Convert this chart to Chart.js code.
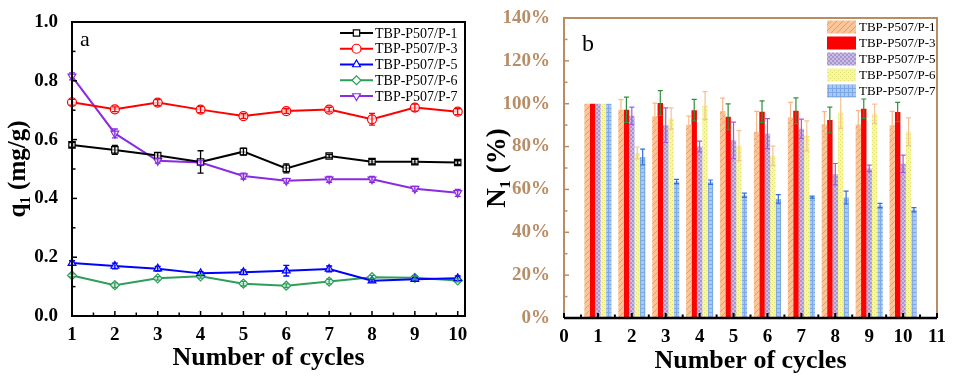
<!DOCTYPE html>
<html><head><meta charset="utf-8">
<script src="https://cdn.jsdelivr.net/npm/chart.js@4/dist/chart.umd.min.js"></script>
<style>
html,body{margin:0;padding:0;background:#fff;}
#wrap{position:relative;width:955px;height:382px;overflow:hidden;background:#fff;}
#c1{position:absolute;left:0;top:0;}
#c2{position:absolute;left:480px;top:0;}
</style></head><body>
<div id="wrap"><canvas id="c1" width="480" height="382"></canvas><canvas id="c2" width="475" height="382"></canvas></div>
<script>
// ---------- data ----------
const cycles = [1,2,3,4,5,6,7,8,9,10];
const seriesNames = ['TBP-P507/P-1','TBP-P507/P-3','TBP-P507/P-5','TBP-P507/P-6','TBP-P507/P-7'];

// panel a : q1 (mg/g)
const qP1 = [0.582,0.565,0.546,0.524,0.559,0.502,0.544,0.525,0.525,0.522];
const qP3 = [0.727,0.703,0.726,0.702,0.680,0.697,0.702,0.669,0.709,0.695];
const qP5 = [0.180,0.170,0.161,0.145,0.149,0.154,0.160,0.120,0.125,0.128];
const qP6 = [0.138,0.105,0.128,0.135,0.110,0.103,0.117,0.132,0.130,0.121];
const qP7 = [0.815,0.621,0.528,0.522,0.476,0.460,0.465,0.465,0.433,0.419];
const qP1Err = [0.008,0.015,0.010,0.038,0.012,0.015,0.006,0.008,0.008,0.006];
const qP3Err = [0.010,0.008,0.010,0.010,0.008,0.008,0.008,0.020,0.012,0.010];
const qP5Err = [0.008,0.010,0.008,0.006,0.008,0.018,0.010,0.004,0.006,0.008];
const qP6Err = [0.005,0.008,0.006,0.006,0.008,0.006,0.008,0.006,0.006,0.005];
const qP7Err = [0.012,0.015,0.008,0.008,0.010,0.008,0.010,0.010,0.008,0.012];

// panel b : N1 (%)
const nP1 = [100,97.2,94.1,90.2,96.6,86.9,93.6,90.3,90.3,89.9];
const nP3 = [100,97.2,100.3,97.0,93.9,96.3,96.7,92.4,97.7,96.1];
const nP5 = [100,94.4,90.0,80.0,82.9,86.0,88.3,67.1,69.8,72.0];
const nP6 = [100,77.0,93.1,99.1,80.4,75.7,85.0,95.9,95.3,86.9];
const nP7 = [100,75.1,63.7,63.4,57.3,55.6,56.4,56.2,52.5,50.5];
const nP1Err = [0,4.7,6.2,4,6,9.5,7,6,6.5,6.5];
const nP3Err = [0,5.9,5.8,5,6,5,6,6,4.5,4.5];
const nP5Err = [0,4,8.1,2.5,8.5,7,4.5,5,1.5,4];
const nP6Err = [0,2.8,5,6.5,7,4.5,7,7.4,4.5,6.5];
const nP7Err = [0,3.7,1,1,1,2,0.5,3,1,1];

// tick labels
const xTicksA = [1,2,3,4,5,6,7,8,9,10];
const yTicksA = [0,0.2,0.4,0.6,0.8,1.0];
const xTicksB = [0,1,2,3,4,5,6,7,8,9,10,11];
const yTicksB = [0,20,40,60,80,100,120,140];

// ---------- styles ----------
const FONT = "'Liberation Serif','Times New Roman',serif";
Chart.defaults.font.family = FONT;
const lineColors = ['#000000','#ff0000','#0000ff','#2e9e5b','#8a2be2'];
const pointStyles = ['rect','circle','triangle','rectRot','triangle'];
const pointRots = [0,0,0,0,180];
const TAN = '#b88d66';

function makePattern(w,h,draw){
  const c=document.createElement('canvas'); c.width=w; c.height=h;
  const x=c.getContext('2d'); draw(x,w,h);
  return x.createPattern(c,'repeat');
}
const patOrange = makePattern(6,6,(x,w,h)=>{x.fillStyle='#fcc597';x.fillRect(0,0,w,h);
  x.strokeStyle='#f39a4e';x.lineWidth=1;x.beginPath();x.moveTo(0,h);x.lineTo(w,0);x.moveTo(-1,1);x.lineTo(1,-1);x.moveTo(w-1,h+1);x.lineTo(w+1,h-1);x.stroke();});
const patRed = makePattern(4,4,(x,w,h)=>{x.fillStyle='#ff0000';x.fillRect(0,0,w,h);x.fillStyle='#f00404';x.fillRect(0,0,1,1);});
const patPurple = makePattern(4,4,(x,w,h)=>{x.fillStyle='#c9bde2';x.fillRect(0,0,w,h);x.fillStyle='#a795cf';x.fillRect(0,0,2,2);x.fillRect(2,2,2,2);});
const patYellow = makePattern(4,4,(x,w,h)=>{x.fillStyle='#f6f6a4';x.fillRect(0,0,w,h);x.fillStyle='#dede6a';x.fillRect(0,0,1,1);x.fillRect(2,2,1,1);});
const patBlue = makePattern(4,4,(x,w,h)=>{x.fillStyle='#a9c8f2';x.fillRect(0,0,w,h);x.fillStyle='#7ea9e8';x.fillRect(0,0,4,1);x.fillRect(0,0,1,4);});
const barFills = [patOrange,patRed,patPurple,patYellow,patBlue];
const barErrColors = ['#f7b98a','#2f8f3f','#9b5de5','#f5c393','#2f6fe0'];

// ---------- plugins ----------
const errorBarPlugin = {
  id:'errbars',
  afterDatasetsDraw(chart, args, opts){
    const ctx=chart.ctx, ys=chart.scales.y;
    chart.data.datasets.forEach((ds,i)=>{
      const meta=chart.getDatasetMeta(i);
      ctx.save(); ctx.strokeStyle=ds.errColor; ctx.lineWidth=opts.width||1.2;
      meta.data.forEach((el,j)=>{
        const v=ds.data[j].y, e=ds.errors[j]; if(!e) return;
        const yt=ys.getPixelForValue(v+e), yb=ys.getPixelForValue(v-e), x=el.x, c=opts.cap||3;
        ctx.beginPath();
        ctx.moveTo(x,yt);ctx.lineTo(x,yb);
        ctx.moveTo(x-c,yt);ctx.lineTo(x+c,yt);
        ctx.moveTo(x-c,yb);ctx.lineTo(x+c,yb);
        ctx.stroke();
      });
      ctx.restore();
    });
  }
};

function tickMarks(ctx, scale, values, len, horiz, base, dir){
  values.forEach(v=>{
    const p=scale.getPixelForValue(v);
    ctx.beginPath();
    if(horiz){ctx.moveTo(p,base);ctx.lineTo(p,base+dir*len);}
    else{ctx.moveTo(base,p);ctx.lineTo(base+dir*len,p);}
    ctx.stroke();
  });
}
function minorsOf(arr){const m=[];for(let i=0;i<arr.length-1;i++)m.push((arr[i]+arr[i+1])/2);return m;}

const frameA = {
  id:'frameA',
  afterDraw(chart){
    const {ctx, chartArea:a, scales:{x,y}} = chart;
    ctx.save(); ctx.strokeStyle='#000'; ctx.lineWidth=2;
    ctx.strokeRect(a.left,a.top,a.right-a.left,a.bottom-a.top);
    ctx.lineWidth=1.5;
    tickMarks(ctx,y,yTicksA,5,false,a.left,1);
    tickMarks(ctx,y,minorsOf(yTicksA),3.5,false,a.left,1);
    tickMarks(ctx,x,xTicksA,5,true,a.bottom,-1);
    tickMarks(ctx,x,minorsOf(xTicksA),3.5,true,a.bottom,-1);
    ctx.fillStyle='#000'; ctx.font="22px "+FONT; ctx.textBaseline='alphabetic'; ctx.textAlign='left';
    ctx.fillText('a',a.left+8,a.top+24);
    chart.data.datasets.forEach((ds,i)=>{
      const yy=a.top+11+i*15.75, x0=a.right-125, x1=a.right-92;
      ctx.strokeStyle=ds.borderColor; ctx.lineWidth=2;
      ctx.beginPath();ctx.moveTo(x0,yy);ctx.lineTo(x1,yy);ctx.stroke();
      ctx.fillStyle='#fff'; ctx.strokeStyle=ds.borderColor; ctx.lineWidth=1.2;
      Chart.helpers.drawPoint(ctx,{pointStyle:ds.pointStyle,rotation:ds.pointRotation,radius:4.5,borderWidth:1.2},(x0+x1)/2,yy);
      ctx.fillStyle='#000'; ctx.font="14px "+FONT; ctx.textBaseline='middle'; ctx.textAlign='left';
      ctx.fillText(ds.label,x1+2,yy+1);
    });
    ctx.restore();
  }
};

const frameB = {
  id:'frameB',
  afterDraw(chart){
    const {ctx, chartArea:a, scales:{x,y}} = chart;
    ctx.save(); ctx.strokeStyle=TAN; ctx.lineWidth=2;
    ctx.beginPath();
    ctx.moveTo(a.left,a.bottom);ctx.lineTo(a.left,a.top);ctx.lineTo(a.right,a.top);ctx.lineTo(a.right,a.bottom);
    ctx.stroke();
    ctx.lineWidth=1.5;
    tickMarks(ctx,y,yTicksB,5,false,a.left,1);
    tickMarks(ctx,y,minorsOf(yTicksB),3.5,false,a.left,1);
    ctx.strokeStyle='#000'; ctx.lineWidth=2.5;
    ctx.beginPath();ctx.moveTo(a.left,a.bottom);ctx.lineTo(a.right,a.bottom);ctx.stroke();
    ctx.lineWidth=2;
    tickMarks(ctx,x,xTicksB,5,true,a.bottom,-1);
    tickMarks(ctx,x,minorsOf(xTicksB),3.5,true,a.bottom,-1);
    ctx.fillStyle='#000'; ctx.font="24px "+FONT; ctx.textBaseline='alphabetic'; ctx.textAlign='left';
    ctx.fillText('b',a.left+18,a.top+33);
    ctx.font="13px "+FONT; ctx.textBaseline='middle';
    chart.data.datasets.forEach((ds,i)=>{
      const yy=a.top+9+i*16, x0=a.right-110;
      ctx.fillStyle=ds.backgroundColor; ctx.fillRect(x0,yy-6.5,29,13);
      ctx.fillStyle='#000'; ctx.fillText(ds.label,x0+32,yy+1);
    });
    ctx.restore();
  }
};

// ---------- chart a ----------
const qSeries=[qP1,qP3,qP5,qP6,qP7], qErrs=[qP1Err,qP3Err,qP5Err,qP6Err,qP7Err];
new Chart(document.getElementById('c1'),{
  type:'line',
  data:{datasets:qSeries.map((s,i)=>({
    label:seriesNames[i], data:cycles.map((c,j)=>({x:c,y:s[j]})),
    borderColor:lineColors[i], borderWidth:2, tension:0, clip:false,
    pointStyle:pointStyles[i], pointRotation:pointRots[i], pointRadius:4.5,
    pointBackgroundColor:'rgba(255,255,255,0.75)', pointBorderColor:lineColors[i], pointBorderWidth:1.2,
    errors:qErrs[i], errColor:lineColors[i]
  }))},
  options:{
    responsive:false, animation:false, devicePixelRatio:1,
    layout:{padding:{left:0,right:15,top:22,bottom:0}},
    plugins:{legend:{display:false},tooltip:{enabled:false},errbars:{width:1.3,cap:3}},
    scales:{
      x:{type:'linear',min:1,max:10.17,grid:{display:false},border:{display:false},
        afterBuildTicks:s=>{s.ticks=xTicksA.map(v=>({value:v}));},
        afterFit:s=>{s.height=66;},
        ticks:{font:{size:19,weight:'bold'},color:'#000',padding:0,autoSkip:false,maxRotation:0},
        title:{display:true,text:'Number of cycles',font:{size:26,weight:'bold'},color:'#000',padding:{top:0,bottom:8}}},
      y:{type:'linear',min:0,max:1,grid:{display:false},border:{display:false},
        afterBuildTicks:s=>{s.ticks=yTicksA.map(v=>({value:v}));},
        afterFit:s=>{s.width=72;},
        ticks:{font:{size:19,weight:'bold'},color:'#000',padding:6,callback:v=>v.toFixed(1)},
        title:{display:true,text:'q₁ (mg/g)',font:{size:25,weight:'bold'},color:'#000',padding:{top:4,bottom:0}}}
    }
  },
  plugins:[errorBarPlugin,frameA]
});

// ---------- chart b ----------
const nSeries=[nP1,nP3,nP5,nP6,nP7], nErrs=[nP1Err,nP3Err,nP5Err,nP6Err,nP7Err];
new Chart(document.getElementById('c2'),{
  type:'bar',
  data:{datasets:nSeries.map((s,i)=>({
    label:seriesNames[i], data:cycles.map((c,j)=>({x:c,y:s[j]})),
    backgroundColor:barFills[i], borderWidth:0, categoryPercentage:0.8, barPercentage:1,
    errors:nErrs[i], errColor:barErrColors[i]
  }))},
  options:{
    responsive:false, animation:false, devicePixelRatio:1,
    layout:{padding:{left:0,right:18,top:18,bottom:0}},
    plugins:{legend:{display:false},tooltip:{enabled:false},errbars:{width:1.2,cap:2.5}},
    scales:{
      x:{type:'linear',min:0,max:11,offset:false,grid:{display:false,offset:false},border:{display:false},
        afterBuildTicks:s=>{s.ticks=xTicksB.map(v=>({value:v}));},
        afterFit:s=>{s.height=64;},
        ticks:{font:{size:19,weight:'bold'},color:'#000',padding:0,autoSkip:false,maxRotation:0},
        title:{display:true,text:'Number of cycles',font:{size:26,weight:'bold'},color:'#000',padding:{top:0,bottom:5}}},
      y:{type:'linear',min:0,max:140,grid:{display:false},border:{display:false},
        afterBuildTicks:s=>{s.ticks=yTicksB.map(v=>({value:v}));},
        afterFit:s=>{s.width=84;},
        ticks:{font:{size:19,weight:'bold'},color:TAN,padding:6,callback:v=>v+'%'},
        title:{display:true,text:'N₁ (%)',font:{size:27,weight:'bold'},color:'#000',padding:{top:2,bottom:0}}}
    }
  },
  plugins:[errorBarPlugin,frameB]
});
</script>
</body></html>
